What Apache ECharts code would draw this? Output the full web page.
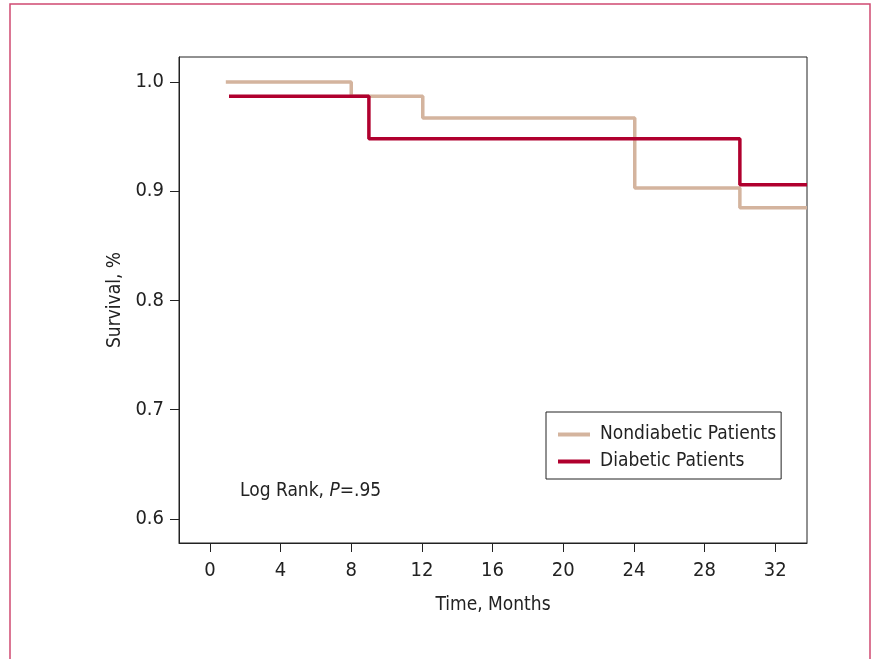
<!DOCTYPE html>
<html><head><meta charset="utf-8">
<script src="https://cdn.jsdelivr.net/npm/echarts@6/dist/echarts.min.js"></script>
<style>html,body{margin:0;padding:0;background:#fff}#c{width:872px;height:659px}</style>
</head><body><div id="c"></div>
<script>
var FONT = '"DejaVu Sans Condensed", "Liberation Sans Narrow", sans-serif';
var xTicks = [0, 4, 8, 12, 16, 20, 24, 28, 32];
var yTicks = [0.6, 0.7, 0.8, 0.9, 1.0];
var nonDiabeticTime = [0.9, 8.0, 12.05, 24.05, 30.0, 33.8];
var nonDiabeticSurv = [1.0, 0.987, 0.967, 0.903, 0.885, 0.885];
var diabeticTime = [1.08, 9.0, 30.0, 33.8];
var diabeticSurv = [0.987, 0.948, 0.906, 0.906];
var seriesNames = ['Nondiabetic Patients', 'Diabetic Patients'];

function pairs(t, s){ return t.map(function(v,i){ return [v, s[i]]; }); }

var chart = echarts.init(document.getElementById('c'));
chart.setOption({
  animation: false,
  backgroundColor: '#fff',
  textStyle: { fontFamily: FONT },
  graphic: [{
    type: 'rect', shape: { x: 10, y: 4, width: 860, height: 700 },
    style: { fill: 'none', stroke: '#cf4a72', lineWidth: 1.5 }, silent: true
  }, {
    type: 'text', left: 240, top: 482,
    style: { rich: { n: { fontSize: 19, fontFamily: FONT, fill: '#222' }, i: { fontSize: 19, fontFamily: FONT, fontStyle: 'italic', fill: '#222' } },
      text: '{n|Log Rank, }{i|P}{n|=.95}' }
  }],
  grid: { left: 179, top: 57, width: 628, height: 486, show: true, borderColor: '#222', borderWidth: 1, containLabel: false },
  legend: {
    left: 546, top: 412, orient: 'vertical', icon: 'rect',
    borderColor: '#222', borderWidth: 1, padding: [13, 5, 8, 12], itemGap: 8,
    itemWidth: 32, itemHeight: 4,
    textStyle: { fontSize: 19, fontFamily: FONT, color: '#222', lineHeight: 19, padding: [0, 0, 0, 5] },
    data: seriesNames
  },
  xAxis: {
    type: 'value', min: -1.75, max: 33.8,
    splitLine: { show: false },
    axisLine: { show: true, onZero: false, lineStyle: { color: '#222', width: 1 } },
    axisTick: { show: true, inside: false, length: 9, lineStyle: { color: '#222' },
      customValues: xTicks },
    axisLabel: { customValues: xTicks, fontSize: 20, color: '#222', margin: 18, fontFamily: FONT },
    name: 'Time, Months', nameLocation: 'middle', nameGap: 53,
    nameTextStyle: { fontSize: 19, color: '#222', fontFamily: FONT }
  },
  yAxis: {
    type: 'value', min: 0.578, max: 1.0229,
    splitLine: { show: false },
    axisLine: { show: true, onZero: false, lineStyle: { color: '#222', width: 1 } },
    axisTick: { show: true, inside: false, length: 9, lineStyle: { color: '#222' }, customValues: yTicks },
    axisLabel: { customValues: yTicks, fontSize: 20, color: '#222', margin: 15, fontFamily: FONT,
      formatter: function(v){ return v.toFixed(1); } },
    name: 'Survival, %', nameLocation: 'middle', nameGap: 54, nameRotate: 90,
    nameTextStyle: { fontSize: 19, color: '#222', fontFamily: FONT }
  },
  series: [{
    name: seriesNames[0], type: 'line', step: 'end', symbol: 'none', clip: true,
    lineStyle: { color: '#d4b49e', width: 3.5 }, itemStyle: { color: '#d4b49e' },
    data: pairs(nonDiabeticTime, nonDiabeticSurv), z: 2
  }, {
    name: seriesNames[1], type: 'line', step: 'end', symbol: 'none', clip: true,
    lineStyle: { color: '#b0002e', width: 3.5 }, itemStyle: { color: '#b0002e' },
    data: pairs(diabeticTime, diabeticSurv), z: 3
  }]
});
</script></body></html>
